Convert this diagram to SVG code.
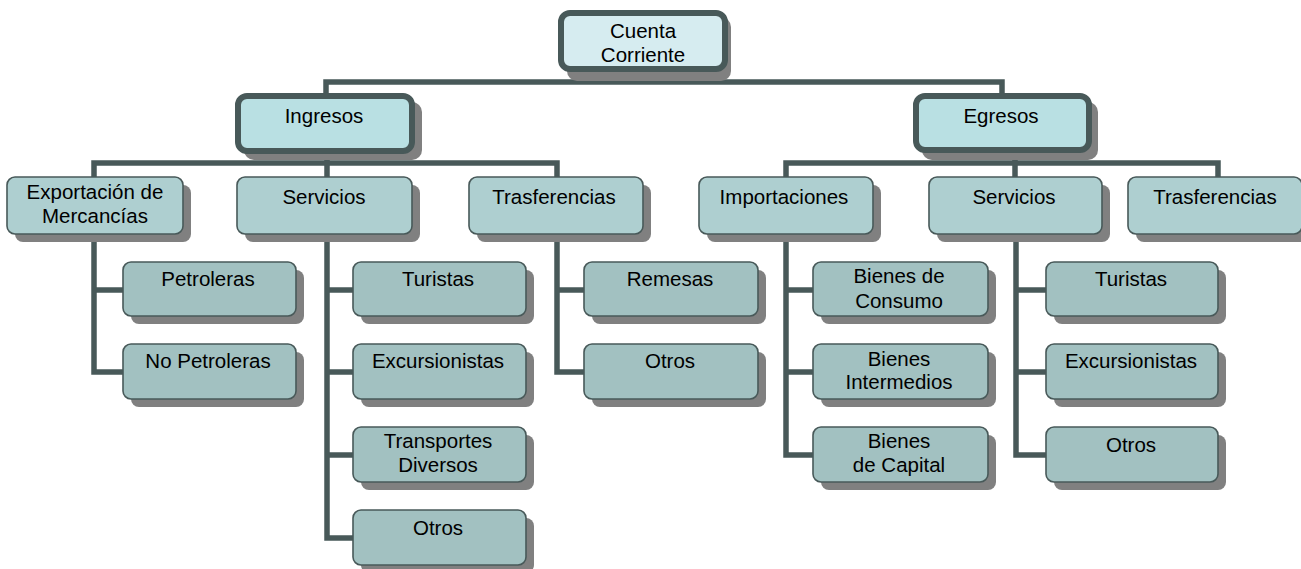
<svg xmlns="http://www.w3.org/2000/svg" width="1301" height="569" viewBox="0 0 1301 569">
<style>
text{font-family:"Liberation Sans",Arial,sans-serif;font-size:20.5px;fill:#000;text-anchor:middle}
.sh{fill:#808080}
.top{fill:#D6ECF0;stroke:#485959;stroke-width:6}
.l1{fill:#B9E0E3;stroke:#485959;stroke-width:6}
.l2{fill:#AECFD0;stroke:#485959;stroke-width:1.6}
.l3{fill:#A2C1C1;stroke:#485959;stroke-width:1.6}
.c{fill:none;stroke:#485959;stroke-width:5.5;stroke-linejoin:miter}
</style>
<rect width="1301" height="569" fill="#fff"/>
<g id="connectors">
<path class="c" d="M326 93 V82 H1002 V93"/>
<path class="c" d="M94 177 V163 H557 V177 M327 154 V177"/>
<path class="c" d="M786 177 V163 H1218 V177 M1015 153 V177"/>
<path class="c" d="M94 234 V372 H123 M94 290 H123"/>
<path class="c" d="M327 234 V538 H353 M327 290 H353 M327 372 H353 M327 455 H353"/>
<path class="c" d="M557 234 V372 H584 M557 290 H584"/>
<path class="c" d="M786 234 V455 H813 M786 290 H813 M786 372 H813"/>
<path class="c" d="M1016 234 V455 H1046 M1016 290 H1046 M1016 372 H1046"/>
</g>
<g id="cuenta-corriente">
<rect class="sh" x="567" y="17" width="164" height="64" rx="10"/>
<rect class="top" x="561" y="13" width="164" height="56" rx="9"/>
<text x="643" y="38">Cuenta</text>
<text x="643" y="62">Corriente</text>
</g>
<g id="ingresos">
<rect class="sh" x="244" y="102" width="178" height="58" rx="10"/>
<rect class="l1" x="238" y="96" width="174" height="55" rx="9"/>
<text x="324" y="123">Ingresos</text>
</g>
<g id="egresos">
<rect class="sh" x="922" y="102" width="176" height="58" rx="10"/>
<rect class="l1" x="916" y="96" width="173" height="54" rx="9"/>
<text x="1001" y="123">Egresos</text>
</g>
<g id="exportacion">
<rect class="sh" x="15" y="185" width="176" height="57" rx="8"/>
<rect class="l2" x="7" y="177" width="176" height="57" rx="8"/>
<text x="95" y="199">Exportación de</text>
<text x="95" y="223">Mercancías</text>
</g>
<g id="servicios-ingresos">
<rect class="sh" x="245" y="185" width="175" height="57" rx="8"/>
<rect class="l2" x="237" y="177" width="175" height="57" rx="8"/>
<text x="324" y="204">Servicios</text>
</g>
<g id="trasferencias-ingresos">
<rect class="sh" x="477" y="185" width="174" height="57" rx="8"/>
<rect class="l2" x="469" y="177" width="174" height="57" rx="8"/>
<text x="554" y="204">Trasferencias</text>
</g>
<g id="importaciones">
<rect class="sh" x="707" y="185" width="174" height="57" rx="8"/>
<rect class="l2" x="699" y="177" width="174" height="57" rx="8"/>
<text x="784" y="204">Importaciones</text>
</g>
<g id="servicios-egresos">
<rect class="sh" x="937" y="185" width="173" height="57" rx="8"/>
<rect class="l2" x="929" y="177" width="173" height="57" rx="8"/>
<text x="1014" y="204">Servicios</text>
</g>
<g id="trasferencias-egresos">
<rect class="sh" x="1136" y="185" width="174" height="57" rx="8"/>
<rect class="l2" x="1128" y="177" width="174" height="57" rx="8"/>
<text x="1215" y="204">Trasferencias</text>
</g>
<g id="petroleras">
<rect class="sh" x="131" y="270" width="173" height="54" rx="8"/>
<rect class="l3" x="123" y="262" width="173" height="54" rx="8"/>
<text x="208" y="286">Petroleras</text>
</g>
<g id="no-petroleras">
<rect class="sh" x="131" y="352" width="173" height="55" rx="8"/>
<rect class="l3" x="123" y="344" width="173" height="55" rx="8"/>
<text x="208" y="368">No Petroleras</text>
</g>
<g id="turistas-ingresos">
<rect class="sh" x="361" y="270" width="173" height="54" rx="8"/>
<rect class="l3" x="353" y="262" width="173" height="54" rx="8"/>
<text x="438" y="286">Turistas</text>
</g>
<g id="excursionistas-ingresos">
<rect class="sh" x="361" y="352" width="173" height="55" rx="8"/>
<rect class="l3" x="353" y="344" width="173" height="55" rx="8"/>
<text x="438" y="368">Excursionistas</text>
</g>
<g id="transportes-diversos">
<rect class="sh" x="361" y="435" width="173" height="55" rx="8"/>
<rect class="l3" x="353" y="427" width="173" height="55" rx="8"/>
<text x="438" y="448">Transportes</text>
<text x="438" y="472">Diversos</text>
</g>
<g id="otros-servicios-ingresos">
<rect class="sh" x="361" y="518" width="173" height="55" rx="8"/>
<rect class="l3" x="353" y="510" width="173" height="55" rx="8"/>
<text x="438" y="535">Otros</text>
</g>
<g id="remesas">
<rect class="sh" x="592" y="270" width="174" height="54" rx="8"/>
<rect class="l3" x="584" y="262" width="174" height="54" rx="8"/>
<text x="670" y="286">Remesas</text>
</g>
<g id="otros-trasferencias">
<rect class="sh" x="592" y="352" width="174" height="55" rx="8"/>
<rect class="l3" x="584" y="344" width="174" height="55" rx="8"/>
<text x="670" y="368">Otros</text>
</g>
<g id="bienes-consumo">
<rect class="sh" x="821" y="270" width="175" height="54" rx="8"/>
<rect class="l3" x="813" y="262" width="175" height="54" rx="8"/>
<text x="899" y="283">Bienes de</text>
<text x="899" y="308">Consumo</text>
</g>
<g id="bienes-intermedios">
<rect class="sh" x="821" y="352" width="175" height="55" rx="8"/>
<rect class="l3" x="813" y="344" width="175" height="55" rx="8"/>
<text x="899" y="366">Bienes</text>
<text x="899" y="389">Intermedios</text>
</g>
<g id="bienes-capital">
<rect class="sh" x="821" y="435" width="175" height="55" rx="8"/>
<rect class="l3" x="813" y="427" width="175" height="55" rx="8"/>
<text x="899" y="448">Bienes</text>
<text x="899" y="472">de Capital</text>
</g>
<g id="turistas-egresos">
<rect class="sh" x="1054" y="270" width="172" height="54" rx="8"/>
<rect class="l3" x="1046" y="262" width="172" height="54" rx="8"/>
<text x="1131" y="286">Turistas</text>
</g>
<g id="excursionistas-egresos">
<rect class="sh" x="1054" y="352" width="172" height="55" rx="8"/>
<rect class="l3" x="1046" y="344" width="172" height="55" rx="8"/>
<text x="1131" y="368">Excursionistas</text>
</g>
<g id="otros-egresos">
<rect class="sh" x="1054" y="435" width="172" height="55" rx="8"/>
<rect class="l3" x="1046" y="427" width="172" height="55" rx="8"/>
<text x="1131" y="452">Otros</text>
</g>
</svg>
